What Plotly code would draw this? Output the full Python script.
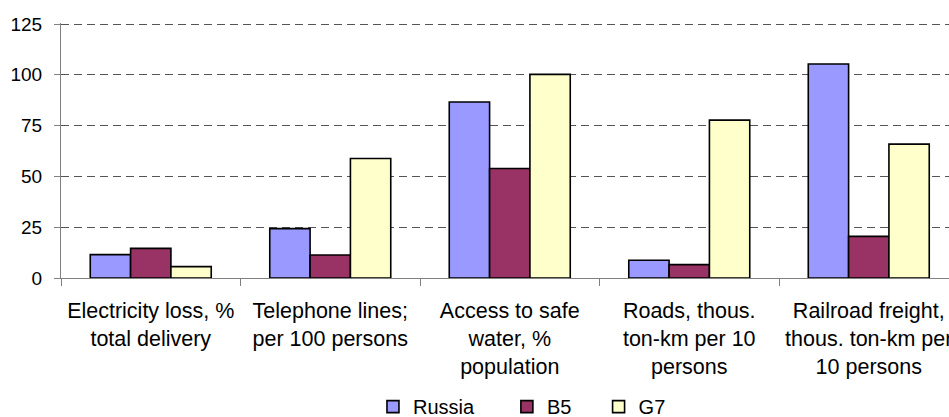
import plotly.graph_objects as go

categories = [
    "Electricity loss, %<br>total delivery",
    "Telephone lines;<br>per 100 persons",
    "Access to safe<br>water, %<br>population",
    "Roads, thous.<br>ton-km per 10<br>persons",
    "Railroad freight,<br>thous. ton-km per<br>10 persons",
]
russia = [11.5, 24.3, 86.6, 8.7, 105.3]
b5 = [14.6, 11.3, 53.9, 6.6, 20.5]
g7 = [5.6, 58.8, 100.2, 77.7, 65.9]
y_ticks = [0, 25, 50, 75, 100, 125]

NB = "\u00a0"
series = [("Russia" + NB * 5, russia, "#9999FF"),
          ("B5" + NB * 4, b5, "#993366"),
          ("G7", g7, "#FFFFCC")]

fig = go.Figure()
for name, vals, col in series:
    fig.add_trace(go.Bar(
        x=categories, y=vals, name=name,
        marker=dict(color=col, line=dict(color="#000000", width=1.6)),
    ))

font = "Liberation Sans, Arial, sans-serif"
fig.update_layout(
    width=949, height=417,
    margin=dict(l=61, r=0, t=23, b=139, autoexpand=False),
    paper_bgcolor="white", plot_bgcolor="white",
    barmode="group", bargap=0.326, bargroupgap=0,
    font=dict(family=font, size=20, color="#000000"),
    showlegend=True,
    legend=dict(orientation="h", x=0.393, xref="container", xanchor="left",
                y=0.025, yref="container", yanchor="middle",
                font=dict(size=20), bgcolor="rgba(0,0,0,0)"),
)
fig.update_xaxes(
    range=[-0.5, 4.447], tickson="boundaries", ticks="outside", ticklen=7,
    tickcolor="#808080", showline=True, linecolor="#808080", linewidth=1,
    showgrid=False, tickangle=0, tickfont=dict(size=21.5), ticklabelstandoff=13,
    automargin=False,
)
fig.update_yaxes(
    range=[0, 125.5], tickvals=y_ticks, ticks="outside", ticklen=6, tickcolor="#808080",
    showline=True, linecolor="#808080", linewidth=1,
    showgrid=True, gridcolor="#555555", gridwidth=1, griddash="8px,5px",
    zeroline=False, tickfont=dict(size=19), ticklabelstandoff=8, automargin=False,
)
fig.write_html("out.html", config={"displayModeBar": False},
               post_script="document.body.style.margin='0';document.body.style.overflow='hidden';")
